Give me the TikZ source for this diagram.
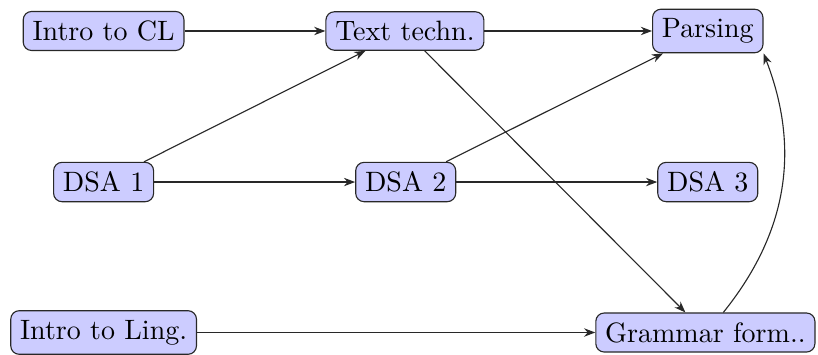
\documentclass[tikz,border=0pt]{standalone}
\usepackage{tikz}
\usetikzlibrary{arrows.meta}
\definecolor{coursefill}{RGB}{204,204,255}
\definecolor{inkdark}{RGB}{40,40,40}

\begin{document}
\begin{tikzpicture}[
  course/.style={draw=inkdark,fill=coursefill,rounded corners=3pt,font=\normalsize},
  dep/.style={-{Stealth[length=4pt,width=3pt]},inkdark}]
\useasboundingbox (0,0) rectangle (10.263,4.442);
% top row
\node[course] (introcl) at (1.30,4.053) {Intro to CL};
\node[course] (texttech) at (5.08,4.053) {Text techn.};
\node[course] (parsing) at (8.88,4.053) {Parsing};
% middle row
\node[course] (dsa1) at (1.30,2.158) {DSA 1};
\node[course] (dsa2) at (5.09,2.158) {DSA 2};
\node[course] (dsa3) at (8.88,2.158) {DSA 3};
% bottom row
\node[course] (introling) at (1.30,0.27) {Intro to Ling.};
\node[course] (gramform) at (8.85,0.27) {Grammar form..};
\draw[dep] (introcl) -- (texttech);
\draw[dep] (texttech) -- (parsing);
\draw[dep] (dsa1) -- (texttech);
\draw[dep] (dsa1) -- (dsa2);
\draw[dep] (dsa2) -- (parsing);
\draw[dep] (dsa2) -- (dsa3);
\draw[dep] (texttech) -- (gramform);
\draw[dep] (introling) -- (gramform);
\draw[dep] (gramform) to[bend right] (parsing.south east);
\end{tikzpicture}
\end{document}
